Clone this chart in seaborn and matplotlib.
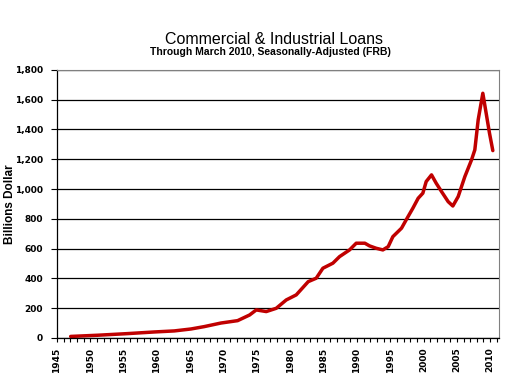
import matplotlib
matplotlib.use('Agg')
import pandas as pd
import matplotlib.pyplot as plt
from matplotlib.ticker import MultipleLocator, FuncFormatter
import seaborn as sns

# Dados (ano decimal, bilhões de dólares)
anos = [1947.05, 1951.1, 1955.6, 1959.6, 1962.6, 1965.1, 1967.1, 1969.6, 1972.1,
        1973.9, 1974.9, 1976.4, 1977.9, 1979.4, 1980.9, 1982.7, 1983.9, 1984.9,
        1986.4, 1987.4, 1988.9, 1989.9, 1991.2, 1991.9, 1992.9, 1993.9, 1994.7,
        1995.4, 1996.7, 1997.4, 1998.4, 1999.2, 1999.9, 2000.4, 2001.2, 2001.9,
        2002.7, 2003.7, 2004.4, 2005.2, 2006.2, 2007.2, 2007.7, 2008.2, 2008.9,
        2009.4, 2009.9, 2010.4]
emprestimos = [10, 18, 29, 40, 47, 60, 76, 100, 116,
               154, 188, 177, 199, 255, 289, 378, 401, 468,
               502, 546, 591, 636, 636, 618, 602, 591, 613,
               680, 737, 793, 871, 938, 972, 1050, 1095, 1039,
               983, 915, 886, 949, 1083, 1195, 1263, 1464, 1643,
               1509, 1375, 1258]

df = pd.DataFrame({'ano': anos, 'valor': emprestimos})

sns.set_style('white')
plt.rcParams['font.family'] = ['Liberation Sans', 'DejaVu Sans']
plt.rcParams['text.color'] = 'black'
plt.rcParams['axes.labelcolor'] = 'black'
plt.rcParams['xtick.color'] = 'black'
plt.rcParams['ytick.color'] = 'black'

fig = plt.figure(figsize=(5.09, 3.84), dpi=100)
ax = fig.add_axes([0.112, 0.120, 0.868, 0.698])

sns.lineplot(data=df, x='ano', y='valor', color='#C00000', linewidth=2.5, ax=ax)

ax.set_xlim(1945, 2011.3)
ax.set_ylim(0, 1800)
ax.yaxis.set_major_locator(MultipleLocator(200))
ax.yaxis.set_major_formatter(FuncFormatter(lambda v, p: f'{int(v):,}'))
ax.xaxis.set_major_locator(MultipleLocator(5))
ax.xaxis.set_minor_locator(MultipleLocator(1))

ax.yaxis.grid(True, color='black', linewidth=0.9)
ax.get_ygridlines()[-1].set_visible(False)
ax.set_axisbelow(True)

for lado in ['left', 'bottom']:
    ax.spines[lado].set_color('black')
    ax.spines[lado].set_linewidth(0.9)
for lado in ['top', 'right']:
    ax.spines[lado].set_color('#808080')
    ax.spines[lado].set_linestyle((0, (2, 1)))
    ax.spines[lado].set_linewidth(0.8)

ax.tick_params(axis='y', which='major', direction='out', length=4, width=0.8,
               color='black', left=True, pad=6)
ax.tick_params(axis='x', which='both', direction='out', length=3, width=0.8,
               color='black', bottom=True, pad=4)
for lbl in ax.get_yticklabels():
    lbl.set_fontfamily('DejaVu Sans')
    lbl.set_fontweight('bold')
    lbl.set_fontsize(6.5)
for lbl in ax.get_xticklabels():
    lbl.set_fontfamily('DejaVu Sans')
    lbl.set_fontweight('bold')
    lbl.set_fontsize(6.5)
    lbl.set_rotation(90)

ax.set_xlabel('')
ax.set_ylabel('Billions Dollar', fontsize=8.5, fontweight='bold')
ax.yaxis.label.set_va('center')
ax.yaxis.set_label_coords(-0.106, 0.5)

fig.text(0.538, 0.896, 'Commercial & Industrial Loans', ha='center', va='center',
         fontsize=11.5)
fig.text(0.532, 0.864, 'Through March 2010, Seasonally-Adjusted (FRB)', ha='center',
         va='center', fontsize=7.5, fontweight='bold')

fig.savefig('out.png', dpi=100)
